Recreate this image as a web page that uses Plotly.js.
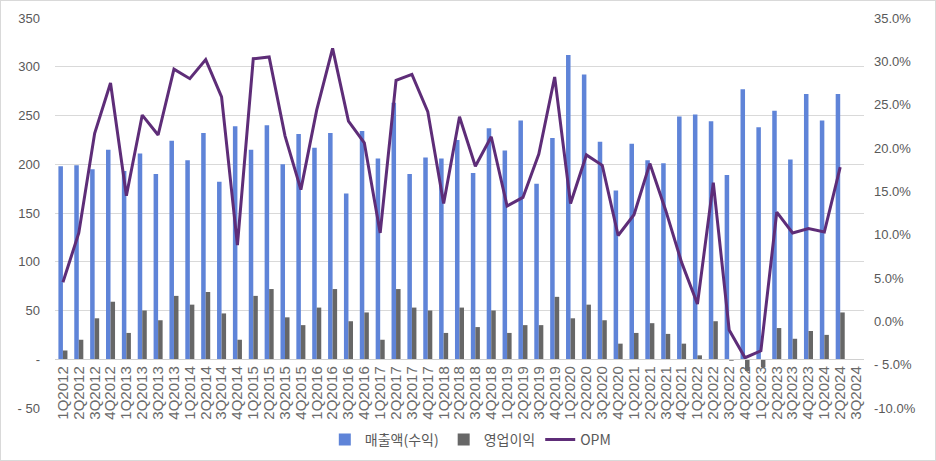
<!DOCTYPE html>
<html>
<head>
<meta charset="utf-8">
<script src="https://cdn.plot.ly/plotly-3.0.1.min.js"></script>
<style>
html,body{margin:0;padding:0;background:#fff;}
#wrap{position:relative;width:936px;height:461px;}
#chart{width:936px;height:461px;}
#frame{position:absolute;left:0;top:0;width:934px;height:459px;border:1px solid #d9d9d9;pointer-events:none;}
</style>
</head>
<body>
<div id="wrap"><div id="chart"></div><div id="frame"></div></div>
<script>
const quarters = ["1Q2012","2Q2012","3Q2012","4Q2012","1Q2013","2Q2013","3Q2013","4Q2013",
"1Q2014","2Q2014","3Q2014","4Q2014","1Q2015","2Q2015","3Q2015","4Q2015",
"1Q2016","2Q2016","3Q2016","4Q2016","1Q2017","2Q2017","3Q2017","4Q2017",
"1Q2018","2Q2018","3Q2018","4Q2018","1Q2019","2Q2019","3Q2019","4Q2019",
"1Q2020","2Q2020","3Q2020","4Q2020","1Q2021","2Q2021","3Q2021","4Q2021",
"1Q2022","2Q2022","3Q2022","4Q2022","1Q2023","2Q2023","3Q2023","4Q2023",
"1Q2024","2Q2024","3Q2024"];

const revenue = [198,199,195,215,193,211,190,224,204,232,182,239,215,240,200,231,
217,232,170,234,206,263,190,207,206,225,191,237,214,245,180,227,
312,292,223,173,221,204,201,249,251,244,189,277,238,255,205,272,245,272,null];

const opIncome = [9,20,42,59,27,50,40,65,56,69,47,20,65,72,43,35,
53,72,39,48,20,72,53,50,27,53,33,50,27,35,35,64,
42,56,40,16,27,37,26,16,4,39,-1.5,-12,-8,32,21,29,25,48,null];

const opm = [4.5,10.2,21.7,27.5,14.5,23.8,21.5,29.1,28.0,30.2,25.9,8.8,30.3,30.5,21.4,15.2,
24.4,31.5,23.1,20.6,10.2,27.8,28.5,24.2,13.6,23.6,17.9,21.3,13.3,14.3,19.3,28.2,
13.6,19.2,18.0,9.9,12.3,18.2,12.8,6.8,2.0,16.0,-1.0,-4.2,-3.4,12.6,10.2,10.7,10.3,17.8,null];

const leftTickVals = [-50,0,50,100,150,200,250,300,350];
const leftTickText = ["- 50","-","50","100","150","200","250","300","350"];
const rightTickVals = [-10,-5,0,5,10,15,20,25,30,35];
const rightTickText = ["-10.0%","- 5.0%","0.0%","5.0%","10.0%","15.0%","20.0%","25.0%","30.0%","35.0%"];

const tickFont = {family: "Liberation Sans, Arial, sans-serif", size: 13, color: "#595959"};

const traces = [
  {type: "bar", name: "매출액(수익)", x: quarters, y: revenue,
   marker: {color: "#5F84D8"}, yaxis: "y"},
  {type: "bar", name: "영업이익", x: quarters, y: opIncome,
   marker: {color: "#676767"}, yaxis: "y"},
  {type: "scatter", mode: "lines", name: "OPM", x: quarters, y: opm,
   line: {color: "#5E2D78", width: 3}, yaxis: "y2", connectgaps: false}
];

const layout = {
  width: 936, height: 461,
  margin: {l: 55, r: 72, t: 18, b: 53},
  paper_bgcolor: "#ffffff", plot_bgcolor: "#ffffff",
  barmode: "group", bargap: 0.43, bargroupgap: 0,
  showlegend: true,
  legend: {orientation: "h", xref: "container", yref: "container", x: 0.503, y: 0.046,
           xanchor: "center", yanchor: "middle",
           font: {family: "Noto Sans CJK KR, sans-serif", size: 14, color: "#595959"},
           itemwidth: 30, traceorder: "normal"},
  xaxis: {type: "category", range: [-0.5, 50.5], anchor: "free", position: 0.125,
          tickmode: "array", tickvals: quarters, ticktext: quarters,
          tickangle: -90, ticks: "", showgrid: false, zeroline: false,
          showline: true, linecolor: "#d0d0d0", linewidth: 1,
          tickfont: {family: "Liberation Sans, Arial, sans-serif", size: 15, color: "#6a6a6a"}},
  yaxis: {range: [-50, 350], tickvals: leftTickVals, ticktext: leftTickText,
          showgrid: true, gridcolor: "#d9d9d9", gridwidth: 1, zeroline: false,
          ticks: "", ticklabelstandoff: 14, tickfont: tickFont, showline: false},
  yaxis2: {range: [-10, 35], tickvals: rightTickVals, ticktext: rightTickText,
           overlaying: "y", side: "right", showgrid: false, zeroline: false,
           ticks: "", ticklabelstandoff: 9, tickfont: tickFont, showline: false}
};

Plotly.newPlot("chart", traces, layout, {displayModeBar: false, staticPlot: true});
</script>
</body>
</html>
